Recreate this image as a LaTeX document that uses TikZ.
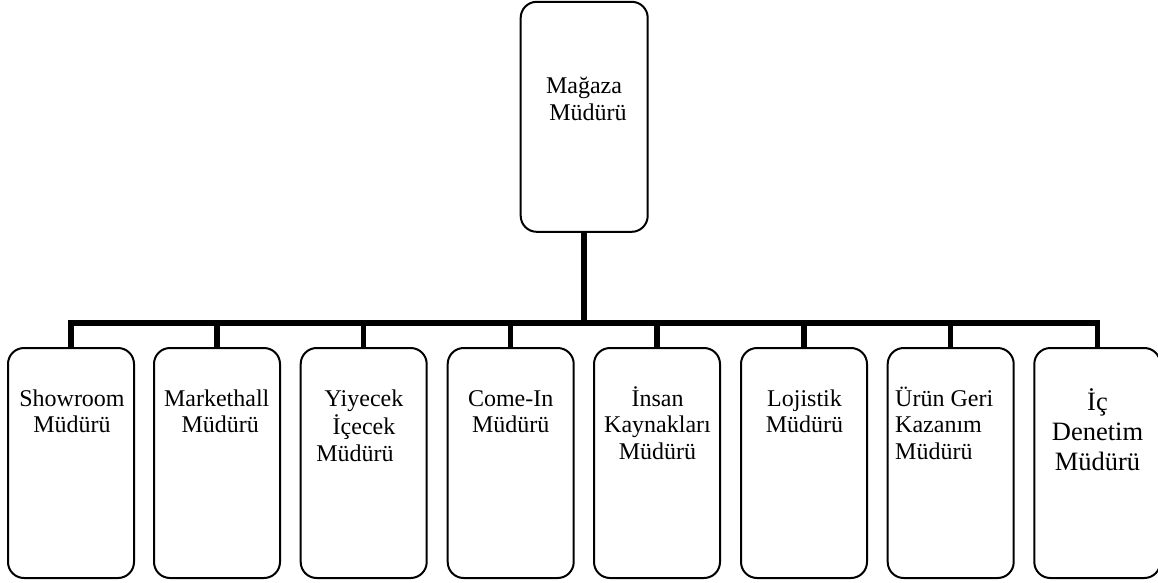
\documentclass[tikz,border=0pt]{standalone}
\usepackage{fontspec}
\setmainfont{Liberation Serif}
\begin{document}
\begin{tikzpicture}[x=1pt,y=-1pt,
  box/.style={draw, line width=2pt, rounded corners=16pt, minimum width=126pt, minimum height=230pt, inner sep=0pt},
  conn/.style={line width=5.5pt},
  lbl/.style={inner sep=0pt, align=center, anchor=north, font=\fontsize{24}{26.5}\selectfont},
  biglbl/.style={lbl, font=\fontsize{26.5}{30}\selectfont}]
\useasboundingbox (0,0) rectangle (1158,583);
% boxes
\node[box, minimum width=127pt] (top) at (584.2,116.8) {};
\node[box] (b1) at (71,463) {};
\node[box] (b2) at (217,463) {};
\node[box] (b3) at (363.7,463) {};
\node[box] (b4) at (510.7,463) {};
\node[box] (b5) at (657,463) {};
\node[box] (b6) at (804,463) {};
\node[box] (b7) at (950.7,463) {};
\node[box] (b8) at (1097.3,463) {};
% connectors
\coordinate (bus) at (584,323);
\draw[conn] (top.south) -- (top.south |- bus);
\draw[conn] (b1.north) -- (b1.north |- bus) -- (b8.north |- bus) -- (b8.north);
\foreach \i in {2,...,7} \draw[conn] (b\i.north |- bus) -- (b\i.north);
% labels
\node[lbl, font=\fontsize{24}{27.3}\selectfont] (t0) at (584,74.2) {\strut Mağaza\\\hspace*{8pt}Müdürü};
\node[lbl] (t1) at (72,387.45) {\strut Showroom\\Müdürü};
\node[lbl] (t2) at (216.7,387.45) {\strut Markethall\\\hspace*{7pt}Müdürü};
\node[lbl] (t3) at (364,387.45) {\strut Yiyecek\\İçecek\\Müdürü\hspace*{18pt}};
\node[lbl] (t4) at (510.7,387.45) {\strut Come-In\\Müdürü};
\node[lbl] (t5) at (657.5,387.45) {\strut\smash{İ}nsan\\Kaynakları\hspace*{8pt}\\Müdürü};
\node[lbl] (t6) at (804.5,387.45) {\strut Lojistik\\Müdürü};
\node[lbl, align=left, anchor=north west] (t7) at (895,387.45) {\strut\smash{Ü}rün Geri\\Kazanım\\Müdürü};
\node[biglbl] (t8) at (1097.5,389.5) {\strut\smash{İ}ç\\Denetim\\Müdürü};
\end{tikzpicture}
\end{document}
